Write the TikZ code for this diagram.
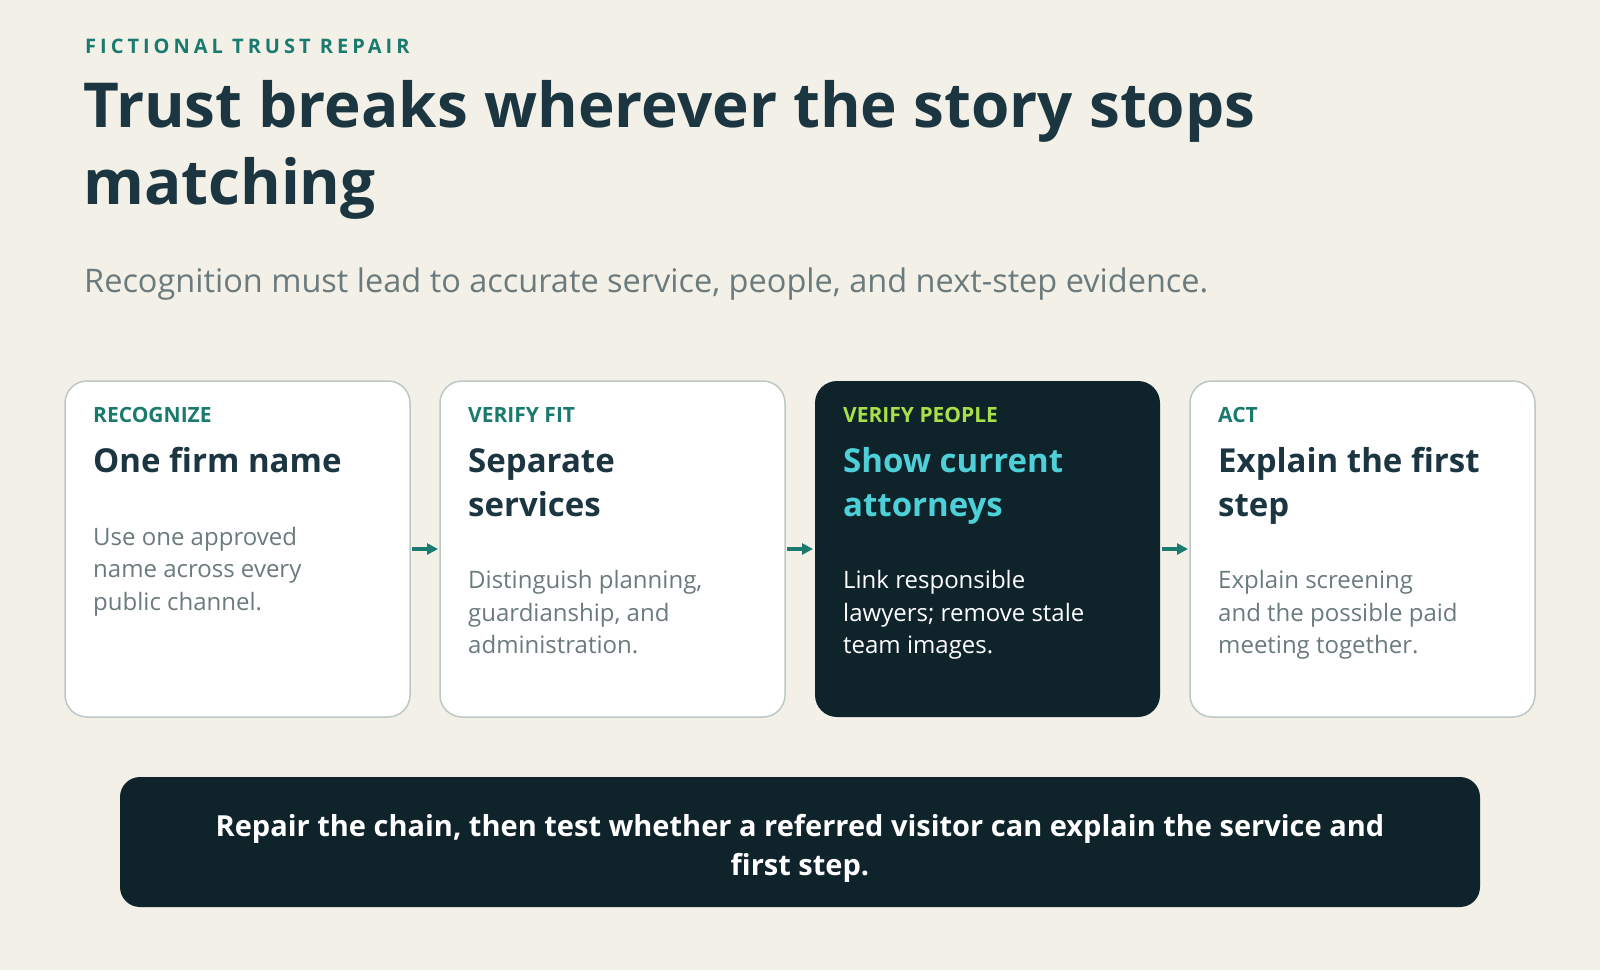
\documentclass[tikz,border=0pt]{standalone}
\usepackage{fontspec}
\setmainfont{Open Sans}
\usetikzlibrary{arrows.meta}
\definecolor{bg}{HTML}{F3F0E8}
\definecolor{teal}{HTML}{1A7A6E}
\definecolor{ink}{HTML}{1B3640}
\definecolor{grey}{HTML}{6B7B7D}
\definecolor{dark}{HTML}{0F232B}
\definecolor{edge}{HTML}{BCC8C4}
\definecolor{cyanh}{HTML}{4DD0D8}
\definecolor{lime}{HTML}{A8E04A}
\begin{document}
\begin{tikzpicture}[x=1pt,y=-1pt,
 card/.style={draw=edge,line width=1.5pt,fill=white,rounded corners=22pt},
 dcard/.style={fill=dark,rounded corners=22pt},
 t/.style={anchor=base west,inner sep=0pt},
 lab/.style={t,font=\fontsize{21}{26}\selectfont\bfseries,text=teal},
 head/.style={t,font=\fontsize{33}{44}\selectfont\bfseries,text=ink},
 body/.style={t,font=\fontsize{24}{32}\selectfont,text=grey},
 arr/.style={-{Triangle[length=11pt,width=11pt]},line width=4pt,teal}]
\fill[bg] (0,0) rectangle (1600,970);
\useasboundingbox (0,0) rectangle (1600,970);
\node[t,text=teal,font=\fontsize{20}{24}\selectfont\bfseries] (kick) at (85,53) {\addfontfeatures{LetterSpace=20}FICTIONAL TRUST REPAIR};
\node[t,text=ink,font=\fontsize{62}{77}\selectfont\bfseries] (title1) at (83,127) {Trust breaks wherever the story stops};
\node[t,text=ink,font=\fontsize{62}{77}\selectfont\bfseries] (title2) at (83,204) {matching};
\node[t,text=grey,font=\fontsize{32.5}{38}\selectfont] (sub) at (84,292) {Recognition must lead to accurate service, people, and next-step evidence.};
% cards
\path[card] (65,381) rectangle (410,717); \node (c1) at (237,549) {};
\path[card] (440,381) rectangle (785,717); \node (c2) at (612,549) {};
\path[dcard] (815,381) rectangle (1160,717); \node (c3) at (987,549) {};
\path[card] (1190,381) rectangle (1535,717); \node (c4) at (1362,549) {};
\draw[arr] (412,549) -- (438,549);
\draw[arr] (787,549) -- (813,549);
\draw[arr] (1162,549) -- (1188,549);
% card 1
\node[lab] (l1) at (93,422) {RECOGNIZE};
\node[head] (h1) at (93,472) {One firm name};
\node[body] (b1a) at (93,545) {Use one approved};
\node[body] (b1b) at (93,577) {name across every};
\node[body] (b1c) at (93,610) {public channel.};
% card 2
\node[lab] (l2) at (468,422) {VERIFY FIT};
\node[head] (h2a) at (468,472) {Separate};
\node[head] (h2b) at (468,516) {services};
\node[body] (b2a) at (468,588) {Distinguish planning,};
\node[body] (b2b) at (468,621) {guardianship, and};
\node[body] (b2c) at (468,653) {administration.};
% card 3
\node[lab,text=lime] (l3) at (843,422) {VERIFY PEOPLE};
\node[head,text=cyanh] (h3a) at (843,472) {Show current};
\node[head,text=cyanh] (h3b) at (843,516) {attorneys};
\node[body,text=white] (b3a) at (843,588) {Link responsible};
\node[body,text=white] (b3b) at (843,621) {lawyers; remove stale};
\node[body,text=white] (b3c) at (843,653) {team images.};
% card 4
\node[lab] (l4) at (1218,422) {ACT};
\node[head] (h4a) at (1218,472) {Explain the first};
\node[head] (h4b) at (1218,516) {step};
\node[body] (b4a) at (1218,588) {Explain screening};
\node[body] (b4b) at (1218,621) {and the possible paid};
\node[body] (b4c) at (1218,653) {meeting together.};
% bottom
\path[dcard,rounded corners=20pt] (120,777) rectangle (1480,907);
\node[text=white,font=\fontsize{29}{39}\selectfont\bfseries,align=center] (bot) at (800,848) {Repair the chain, then test whether a referred visitor can explain the service and\\first step.};
\end{tikzpicture}
\end{document}
